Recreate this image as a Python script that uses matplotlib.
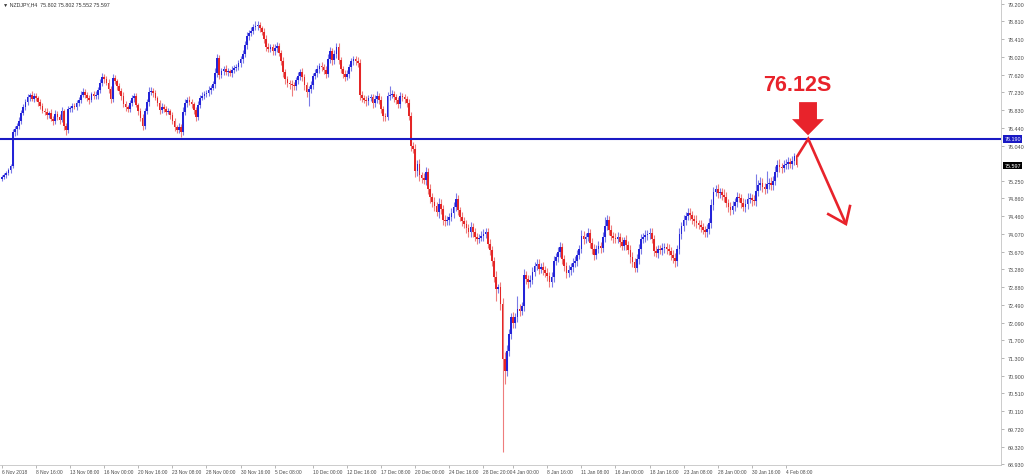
import matplotlib
matplotlib.use("Agg")
import matplotlib.pyplot as plt
from matplotlib.patches import Polygon
import numpy as np

# ---------------- data ----------------
first_open = 75.30
closes = [
    75.34, 75.38, 75.43, 75.49, 75.58, 76.34, 76.41, 76.48, 76.59, 76.77,
    76.90, 77.01, 77.12, 77.17, 77.08, 77.15, 77.10, 77.01, 76.92, 76.81,
    76.79, 76.72, 76.77, 76.63, 76.59, 76.74, 76.68, 76.61, 76.81, 76.48,
    76.39, 76.86, 76.88, 76.92, 76.90, 76.99, 77.06, 77.17, 77.24, 77.17,
    77.10, 77.06, 77.19, 77.15, 77.17, 77.28, 77.44, 77.57, 77.53, 77.44,
    77.30, 77.08, 77.55, 77.48, 77.37, 77.26, 77.15, 76.97, 76.90, 76.86,
    76.99, 77.10, 77.15, 76.95, 76.81, 76.66, 76.48, 76.81, 77.01, 77.24,
    77.26, 77.21, 77.10, 76.99, 76.83, 76.90, 76.86, 76.79, 76.81, 76.72,
    76.59, 76.46, 76.39, 76.46, 76.34, 76.79, 76.99, 77.06, 77.01, 76.97,
    76.83, 76.68, 76.95, 77.10, 77.15, 77.19, 77.21, 77.28, 77.33, 77.41,
    77.66, 77.99, 77.62, 77.70, 77.75, 77.68, 77.70, 77.66, 77.73, 77.77,
    77.79, 77.88, 77.97, 78.08, 78.28, 78.49, 78.55, 78.60, 78.69, 78.71,
    78.73, 78.66, 78.57, 78.42, 78.24, 78.20, 78.24, 78.15, 78.22, 78.26,
    78.11, 77.93, 77.68, 77.53, 77.44, 77.41, 77.39, 77.37, 77.50, 77.59,
    77.68, 77.57, 77.39, 77.24, 77.30, 77.39, 77.59, 77.66, 77.75, 77.82,
    77.79, 77.73, 77.64, 77.97, 78.15, 77.95, 78.08, 78.24, 77.95, 77.75,
    77.64, 77.57, 77.64, 77.79, 77.93, 77.97, 77.93, 77.88, 77.17, 77.10,
    77.06, 77.03, 77.10, 77.12, 76.99, 77.08, 77.15, 77.06, 76.86, 76.70,
    76.68, 77.15, 77.17, 77.19, 77.12, 77.06, 76.97, 77.15, 77.12, 77.08,
    76.99, 76.70, 76.03, 75.96, 75.47, 75.63, 75.38, 75.32, 75.27, 75.45,
    75.07, 74.89, 74.78, 74.69, 74.56, 74.74, 74.62, 74.38, 74.36, 74.38,
    74.45, 74.54, 74.67, 74.85, 74.60, 74.45, 74.36, 74.29, 74.20, 74.11,
    74.22, 74.11, 74.00, 73.96, 73.98, 74.03, 74.07, 74.11, 73.84, 73.71,
    73.46, 73.11, 72.84, 72.88, 72.50, 71.28, 71.01, 71.46, 71.83, 72.21,
    72.08, 72.21, 72.39, 72.35, 72.46, 73.15, 73.06, 72.99, 73.04, 73.22,
    73.35, 73.40, 73.29, 73.33, 73.26, 73.20, 73.13, 72.99, 73.11, 73.46,
    73.55, 73.66, 73.77, 73.51, 73.35, 73.20, 73.26, 73.33, 73.42, 73.46,
    73.60, 73.73, 74.03, 73.96, 74.00, 74.09, 73.87, 73.73, 73.60, 73.73,
    73.80, 73.76, 74.00, 74.24, 74.38, 74.16, 74.03, 73.98, 73.96, 74.00,
    73.89, 73.80, 73.93, 73.82, 73.71, 73.55, 73.44, 73.31, 73.51, 73.73,
    73.96, 74.00, 74.04, 74.07, 74.09, 73.96, 73.69, 73.64, 73.73, 73.71,
    73.75, 73.77, 73.73, 73.69, 73.60, 73.53, 73.46, 73.73, 74.07, 74.24,
    74.38, 74.47, 74.54, 74.49, 74.40, 74.36, 74.31, 74.27, 74.22, 74.16,
    74.11, 74.18, 74.31, 74.71, 75.00, 75.07, 74.98, 75.00, 74.94, 74.89,
    74.76, 74.67, 74.60, 74.69, 74.78, 74.89, 74.87, 74.76, 74.67, 74.74,
    74.85, 74.87, 74.82, 74.80, 75.02, 75.16, 75.20, 75.11, 75.07, 75.18,
    75.20, 75.16, 75.25, 75.45, 75.61, 75.56, 75.54, 75.61, 75.63, 75.67,
    75.63, 75.70, 75.80, 75.597,
]
# upper / lower wick lengths in pips (0.01)
wick_up = [
    4, 5, 4, 6, 5, 8, 6, 7, 9, 6,   7, 6, 8, 5, 9, 6, 7, 5, 6, 8,
    6, 9, 5, 8, 6, 10, 7, 6, 9, 5,  6, 7, 5, 6, 8, 7, 6, 9, 8, 7,
    6, 8, 5, 7, 9, 6, 8, 10, 7, 6,  8, 7, 9, 6, 5, 7, 6, 8, 6, 5,
    7, 8, 6, 7, 5, 6, 9, 7, 8, 10,  8, 6, 7, 5, 6, 9, 7, 6, 8, 5,
    6, 7, 5, 8, 6, 12, 9, 7, 8, 6,  5, 7, 9, 6, 8, 7, 6, 9, 7, 8,
    12, 10, 7, 8, 6, 9, 7, 6, 8, 7, 6, 8, 7, 9, 10, 8, 6, 9, 7, 10,
    8, 7, 6, 9, 8, 10, 7, 6, 8, 9,  7, 6, 9, 8, 6, 7, 9, 8, 7, 10,
    8, 9, 7, 6, 8, 9, 7, 8, 9, 7,   8, 7, 9, 12, 8, 7, 10, 9, 8, 6,
    7, 9, 8, 6, 7, 8, 6, 9, 10, 8,  7, 9, 6, 8, 7, 9, 10, 6, 8, 7,
    6, 8, 21, 9, 7, 8, 6, 9, 7, 8,  7, 9, 10, 8, 12, 9, 11, 8, 10, 12,
    10, 12, 9, 11, 8, 14, 10, 9, 12, 8, 9, 11, 10, 14, 9, 8, 10, 9, 8, 10,
    12, 9, 10, 8, 9, 11, 10, 8, 9, 11, 9, 10, 12, 8, 11, 14, 15, 13, 12, 10,
    11, 10, 30, 12, 9, 14, 10, 9, 11, 12, 9, 10, 11, 8, 12, 9, 10, 8, 11, 12,
    10, 11, 12, 9, 8, 10, 11, 9, 10, 12, 11, 9, 12, 10, 8, 11, 9, 10, 12, 9,
    10, 8, 12, 21, 10, 9, 11, 8, 10, 12, 9, 10, 8, 12, 9, 10, 11, 9, 10, 12,
    10, 8, 12, 9, 11, 10, 9, 11, 10, 8, 12, 10, 9, 11, 8, 10, 12, 9, 14, 10,
    12, 9, 10, 11, 9, 10, 12, 8, 11, 10, 9, 11, 12, 14, 12, 10, 11, 9, 10, 12,
    11, 9, 10, 12, 10, 11, 9, 10, 12, 10, 14, 12, 10, 11, 38, 12, 14, 11, 10, 30,
    12, 14, 11, 13, 10, 12, 9, 11, 10, 12, 9, 10, 8, 0,
]
wick_dn = [
    6, 5, 7, 4, 6, 5, 8, 14, 6, 7,  5, 7, 6, 8, 5, 7, 6, 8, 7, 5,
    6, 8, 7, 5, 9, 6, 7, 8, 5, 9,   12, 7, 6, 8, 5, 7, 6, 8, 5, 7,
    6, 9, 5, 7, 6, 8, 6, 7, 9, 5,   8, 9, 6, 7, 8, 6, 9, 7, 8, 6,
    7, 6, 9, 5, 8, 7, 10, 6, 7, 8,  6, 8, 5, 7, 9, 6, 8, 7, 5, 8,
    7, 9, 8, 6, 11, 7, 6, 8, 7, 9,  8, 10, 6, 7, 5, 8, 6, 7, 9, 6,
    8, 10, 9, 7, 8, 6, 9, 7, 8, 6,  7, 6, 8, 9, 7, 8, 9, 7, 6, 8,
    9, 8, 7, 10, 9, 8, 7, 9, 8, 10, 8, 9, 10, 12, 9, 11, 24, 10, 8, 9,
    9, 8, 10, 12, 31, 9, 8, 7, 9, 8, 8, 10, 9, 7, 8, 11, 9, 8, 10, 9,
    9, 8, 7, 9, 8, 10, 9, 8, 11, 9, 8, 10, 9, 7, 11, 8, 9, 10, 9, 12,
    10, 8, 9, 7, 10, 9, 8, 10, 9, 8, 9, 10, 12, 9, 14, 10, 12, 11, 9, 12,
    11, 13, 10, 12, 9, 14, 10, 12, 11, 9, 12, 10, 11, 9, 12, 10, 11, 9, 12, 10,
    10, 12, 9, 11, 10, 8, 12, 10, 9, 11, 11, 12, 27, 10, 12, 208, 29, 12, 11, 10,
    12, 11, 10, 12, 9, 11, 10, 12, 11, 9, 10, 9, 12, 10, 11, 9, 12, 11, 10, 12,
    9, 11, 10, 12, 10, 11, 9, 10, 12, 10, 11, 10, 9, 12, 10, 9, 11, 10, 12, 10,
    9, 11, 10, 12, 9, 11, 10, 12, 9, 10, 12, 10, 9, 11, 10, 12, 11, 10, 9, 12,
    10, 9, 11, 10, 12, 10, 11, 9, 12, 10, 11, 10, 12, 9, 11, 10, 13, 10, 12, 11,
    10, 12, 9, 11, 10, 12, 11, 10, 12, 9, 11, 10, 12, 10, 11, 9, 12, 10, 11, 10,
    10, 12, 11, 9, 10, 12, 10, 11, 9, 12, 11, 10, 12, 9, 11, 10, 12, 11, 10, 9,
    10, 12, 11, 9, 12, 10, 11, 9, 10, 12, 10, 11, 9, 4.5,
]

price_ticks = [79.200, 78.810, 78.410, 78.020, 77.620, 77.230, 76.830, 76.440,
               76.040, 75.250, 74.860, 74.460, 74.070, 73.670, 73.280, 72.880,
               72.490, 72.090, 71.700, 71.300, 70.900, 70.510, 70.110, 69.720,
               69.320, 68.930]
date_bars = [0, 16, 32, 48, 64, 80, 96, 112, 128, 146, 162, 178, 194, 210, 226,
             240, 256, 272, 288, 304, 320, 336, 352, 368]
date_labels = ["6 Nov 2018", "8 Nov 16:00", "13 Nov 08:00", "16 Nov 00:00",
               "20 Nov 16:00", "23 Nov 08:00", "28 Nov 00:00", "30 Nov 16:00",
               "5 Dec 08:00", "10 Dec 00:00", "12 Dec 16:00", "17 Dec 08:00",
               "20 Dec 00:00", "24 Dec 16:00", "28 Dec 20:00", "4 Jan 00:00",
               "8 Jan 16:00", "11 Jan 08:00", "16 Jan 00:00", "18 Jan 16:00",
               "23 Jan 08:00", "28 Jan 00:00", "30 Jan 16:00", "4 Feb 08:00"]
level_price = 76.190
last_price = 75.597
title_text = "\u25bc NZDJPY,H4  75.802 75.802 75.552 75.597"
signal_text = "76.12S"
signal_text_pos = (373.3, 77.41)
path_bars = [373.2, 378.5, 396.2]
path_prices = [75.79, 76.19, 74.29]
head_bars = [387.9, 396.2, 398.1]
head_prices = [74.51, 74.29, 74.69]
down_arrow_bars = [374.2, 382.6, 382.6, 385.9, 378.4, 370.9, 374.2, 374.2]
down_arrow_prices = [77.01, 77.01, 76.63, 76.63, 76.27, 76.63, 76.63, 77.01]

# ---------------- style ----------------
BLUE = "#2323d8"
RED = "#e42626"
LINE_BLUE = "#1a1ac4"
ANN_RED = "#e8232b"
TXT = "#4a4a4a"
FONT = ["Liberation Sans", "DejaVu Sans"]

fig = plt.figure(figsize=(10.24, 4.77), dpi=100)
fig.patch.set_facecolor("white")
ax = fig.add_axes([0.0, 11 / 477, 1001 / 1024, 466 / 477])
ax.set_facecolor("white")

c = np.array(closes, dtype=float)
o = np.concatenate([[first_open], c[:-1]])
up = np.array(wick_up, dtype=float) / 100.0
dn = np.array(wick_dn, dtype=float) / 100.0
hi = np.maximum(o, c) + up
lo = np.minimum(o, c) - dn
idx = np.arange(len(c))
bull = c >= o
cols = np.where(bull, BLUE, RED)

ax.vlines(idx, lo, hi, colors=cols, linewidth=0.8, alpha=0.6, zorder=2)
body = np.maximum(np.abs(c - o), 0.015)
ax.bar(idx, body, bottom=np.minimum(o, c), width=0.8, color=cols,
       linewidth=0, zorder=3)

# horizontal level line
ax.axhline(level_price, color=LINE_BLUE, linewidth=1.5, zorder=4)

# axis limits (pixel-calibrated)
ax.set_xlim(-0.94, 469.0)
ax.set_ylim(68.910, 79.312)

for s in ["top", "left"]:
    ax.spines[s].set_visible(False)
for s in ["right", "bottom"]:
    ax.spines[s].set_color("#c4c4c4")
    ax.spines[s].set_linewidth(0.6)

ax.yaxis.tick_right()
ax.set_yticks(price_ticks)
ax.set_yticklabels(["%.3f" % v for v in price_ticks], fontsize=3.9,
                   color=TXT, family=FONT)
ax.tick_params(axis="y", length=2, width=0.5, color="#999999", pad=2.5)

ax.set_xticks(date_bars)
ax.set_xticklabels(date_labels, fontsize=3.5, color=TXT, family=FONT, ha="left")
ax.tick_params(axis="x", length=2, width=0.5, color="#999999", pad=1.0)

# price boxes on the right axis
ax.text(1.0035, level_price, "%.3f" % level_price, transform=ax.get_yaxis_transform(),
        fontsize=3.9, color="white", family=FONT, va="center", ha="left",
        bbox=dict(boxstyle="square,pad=0.25", fc=LINE_BLUE, ec="none"), zorder=6,
        clip_on=False)
ax.text(1.0035, last_price, "%.3f" % last_price, transform=ax.get_yaxis_transform(),
        fontsize=3.9, color="white", family=FONT, va="center", ha="left",
        bbox=dict(boxstyle="square,pad=0.25", fc="black", ec="none"), zorder=6,
        clip_on=False)

# title
ax.text(0.003, 0.989, title_text, transform=ax.transAxes, fontsize=3.8,
        color="#333333", family=FONT, va="center", ha="left")

# annotation: trade path and arrows
ax.plot(path_bars, path_prices, color=ANN_RED, linewidth=1.9,
        solid_joinstyle="miter", solid_capstyle="butt", zorder=7)
ax.plot(head_bars, head_prices, color=ANN_RED, linewidth=1.9,
        solid_joinstyle="miter", zorder=7)
ax.add_patch(Polygon(np.column_stack([down_arrow_bars, down_arrow_prices]),
                     closed=True, fc=ANN_RED, ec="none", zorder=7))
ax.text(signal_text_pos[0], signal_text_pos[1], signal_text, fontsize=15.5,
        fontweight="bold",
        color=ANN_RED, family=["Liberation Sans Narrow", "Liberation Sans", "DejaVu Sans"],
        ha="center", va="center", zorder=7)

fig.savefig("out.png", dpi=100, facecolor="white")
